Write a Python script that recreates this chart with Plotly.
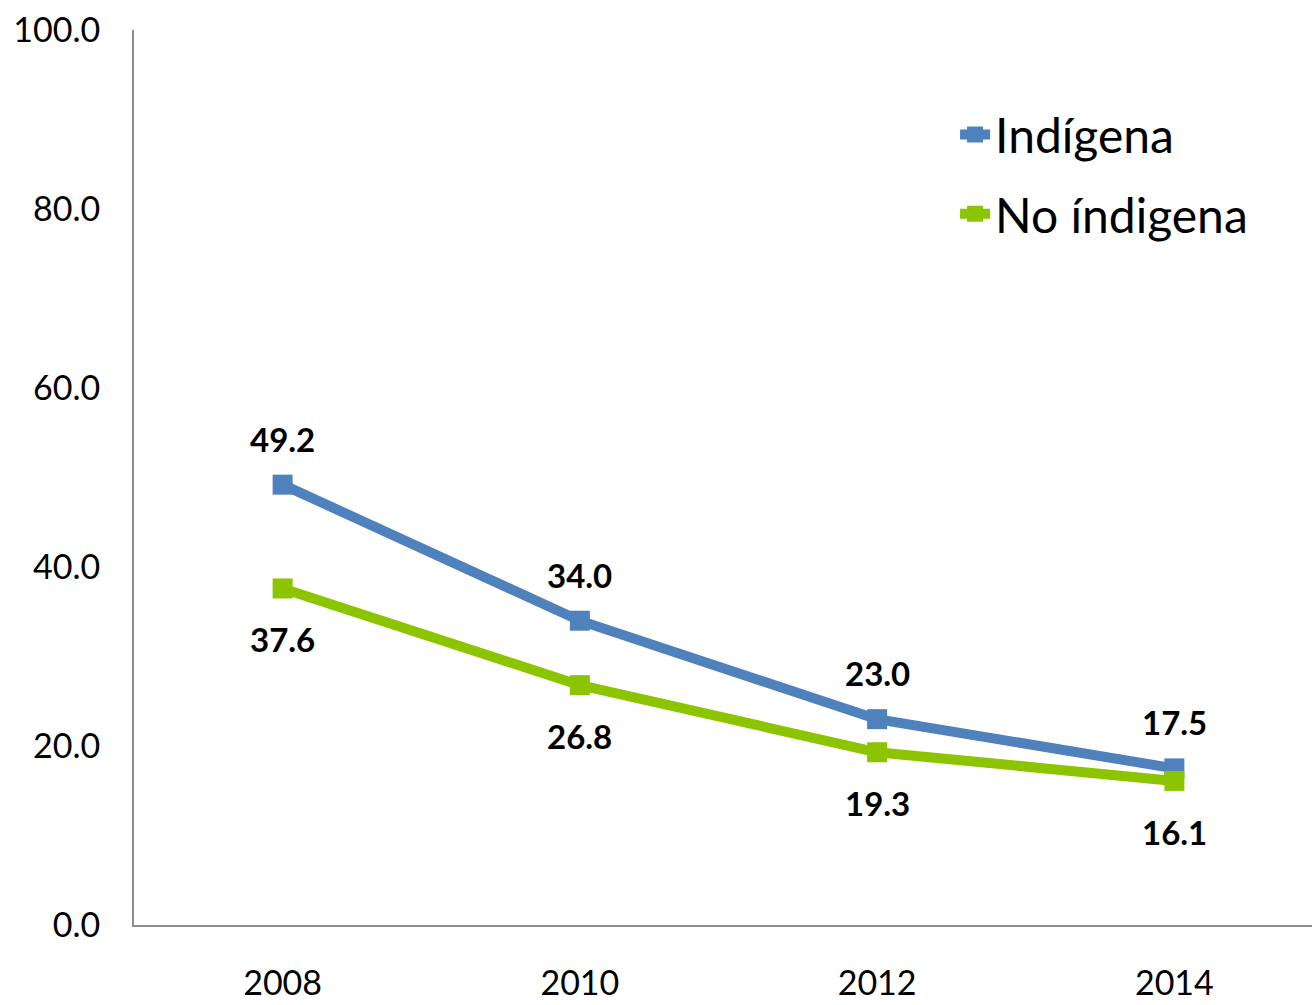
import plotly.graph_objects as go

years = ["2008", "2010", "2012", "2014"]
indigena = [49.2, 34.0, 23.0, 17.5]
no_indigena = [37.6, 26.8, 19.3, 16.1]
y_ticks = [0, 20, 40, 60, 80, 100]

BLUE = "#4F81BD"
GREEN = "#8DC400"
FONT = "Lato, Carlito, Calibri, sans-serif"

fig = go.Figure()
fig.add_trace(go.Scatter(x=years, y=indigena, name="Indígena", mode="lines+markers",
                         legendgroup="a",
                         line=dict(color=BLUE, width=10),
                         marker=dict(symbol="square", size=20, color=BLUE)))
fig.add_trace(go.Scatter(x=years, y=no_indigena, name="No índigena", mode="lines+markers",
                         legendgroup="b",
                         line=dict(color=GREEN, width=10),
                         marker=dict(symbol="square", size=20, color=GREEN)))

for i, v in enumerate(indigena):
    fig.add_annotation(x=i, y=v, xref="x", yref="y", text=f"<b>{v:.1f}</b>",
                       showarrow=False, yshift=46,
                       font=dict(size=33, color="black", family=FONT))
for i, v in enumerate(no_indigena):
    fig.add_annotation(x=i, y=v, xref="x", yref="y", text=f"<b>{v:.1f}</b>",
                       showarrow=False, yshift=-51,
                       font=dict(size=33, color="black", family=FONT))

fig.update_layout(
    width=1312, height=1005,
    margin=dict(l=134, r=0, t=30, b=80, autoexpand=False),
    plot_bgcolor="white", paper_bgcolor="white",
    font=dict(family=FONT, color="black", size=34),
    legend=dict(x=0.697, y=0.9255, xanchor="left", yanchor="top",
                font=dict(size=48, family=FONT), bgcolor="rgba(0,0,0,0)",
                tracegroupgap=14, itemwidth=30),
    showlegend=True,
)
fig.update_xaxes(type="category", range=[-0.5, 3.463], showgrid=False,
                 showline=True, linecolor="#8C8C8C", linewidth=2,
                 ticks="", ticklabelstandoff=27, tickfont=dict(size=34))
fig.update_yaxes(range=[0, 100], tickvals=y_ticks, tickformat=".1f", showgrid=False,
                 zeroline=False, showline=True, linecolor="#8C8C8C", linewidth=2,
                 ticks="", ticklabelstandoff=25, tickfont=dict(size=34))

fig.write_html("out.html", config={"displayModeBar": False},
               post_script="document.body.style.margin='0';document.body.style.overflow='hidden';")
